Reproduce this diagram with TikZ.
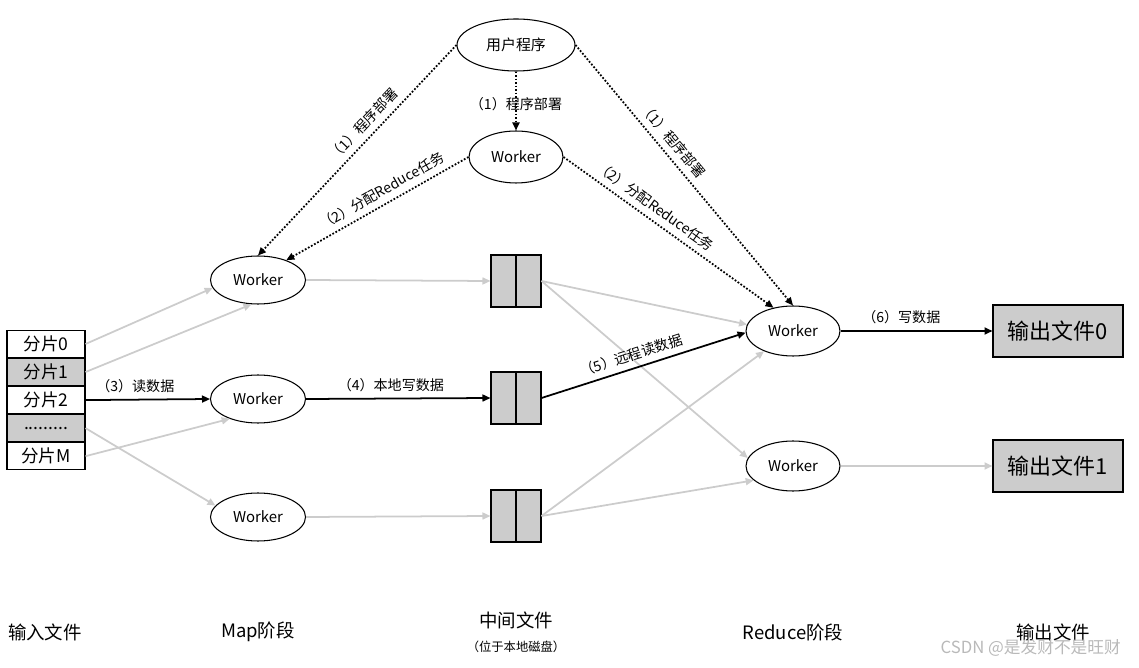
\documentclass[tikz,border=0pt]{standalone}
\usepackage{fontspec}
\setmainfont{Noto Sans CJK SC}
\usetikzlibrary{arrows.meta, positioning, shapes.geometric}

\begin{document}
\begin{tikzpicture}[x=0.02cm, y=-0.02cm,
    font=\fontsize{8}{10}\selectfont,
    wrk/.style={ellipse, draw, semithick, minimum width=1.9cm, minimum height=0.96cm,
      inner sep=0pt, font=\fontsize{8.5}{10}\selectfont},
    tmp/.style={rectangle, draw, semithick, fill=gray!40, minimum width=1cm,
      minimum height=1.04cm, inner sep=0pt},
    part/.style={rectangle, draw, semithick, minimum width=1.56cm, minimum height=0.54cm,
      inner sep=0pt, font=\fontsize{10}{12}\selectfont},
    outf/.style={rectangle, draw, semithick, fill=gray!40, minimum width=2.6cm,
      minimum height=1.04cm, font=\fontsize{12.5}{14}\selectfont},
    ctl/.style={-{Triangle[length=1.6mm,width=1.4mm]}, densely dotted, line width=1pt},
    flow/.style={-{Triangle[length=1.6mm,width=1.4mm]}, line width=1pt},
    idle/.style={-{Triangle[length=1.6mm,width=1.4mm]}, draw=gray!40, line width=1pt},
    stage/.style={font=\fontsize{10.5}{12}\selectfont}
  ]
  \useasboundingbox (0,0) rectangle (1139,668);

  \node[wrk, minimum width=2.36cm, minimum height=1.04cm] (usr) at (516,45) {用户程序};
  \node[wrk, minimum width=1.88cm, minimum height=1.04cm] (mst) at (516,157) {Worker};

  \node[part] (in0) at (46,344) {分片0};
  \node[part, fill=gray!40, below=0pt of in0] (in1) {分片1};
  \node[part, below=0pt of in1] (in2) {分片2};
  \node[part, fill=gray!40, below=0pt of in2] (in3) {.........};
  \node[part, below=0pt of in3] (in4) {分片M};

  \node[wrk] (mw1) at (258,280) {Worker};
  \node[wrk] (mw2) at (258,399) {Worker};
  \node[wrk] (mw3) at (258,517) {Worker};

  \node[tmp] (f1) at (516,281) {};
  \node[tmp] (f2) at (516,398) {};
  \node[tmp] (f3) at (516,516) {};
  \foreach \f in {f1,f2,f3}
    \draw[semithick] (\f.north) -- (\f.south);

  \node[wrk, minimum width=1.88cm, minimum height=1cm] (rw1) at (793,331) {Worker};
  \node[wrk, minimum width=1.88cm, minimum height=1cm] (rw2) at (793,466) {Worker};

  \node[outf] (out0) at (1058,331) {输出文件0};
  \node[outf] (out1) at (1058,466) {输出文件1};

  \draw[ctl] (usr.west) -- node[pos=0.42, sloped, above] {（1）程序部署} (mw1.north);
  \draw[ctl] (usr.south) -- node[pos=0.55] {（1）程序部署} (mst.north);
  \draw[ctl] (usr.east) -- node[pos=0.4, sloped, above] {（1）程序部署} (rw1.north);
  \draw[ctl] (mst.west) -- node[pos=0.44, sloped, above] {（2）分配Reduce任务} (mw1.35);
  \draw[ctl] (mst.east) -- node[pos=0.4, sloped, above] {（2）分配Reduce任务} (rw1.130);

  \draw[idle] (in0.east) -- (mw1.190);
  \draw[idle] (in1.east) -- (mw1.255);
  \draw[flow] (in2.east) -- node[pos=0.4, above] {（3）读数据} (mw2.west);
  \draw[idle] (in3.east) -- (mw3.165);
  \draw[idle] (in4.east) -- (mw2.215);

  \draw[idle] (mw1.east) -- (f1.west);
  \draw[flow] (mw2.east) -- node[pos=0.46, above] {（4）本地写数据} (f2.west);
  \draw[idle] (mw3.east) -- (f3.west);

  \draw[idle] (f1.east) -- (rw1.172);
  \draw[idle] (f1.east) -- (rw2.170);
  \draw[flow] (f2.east) -- node[pos=0.46, sloped, above] {（5）远程读数据} (rw1.182);
  \draw[idle] (f3.east) -- (rw1.215);
  \draw[idle] (f3.east) -- (rw2.200);

  \draw[flow] (rw1.east) -- node[pos=0.4, above] {（6）写数据} (out0.west);
  \draw[idle] (rw2.east) -- (out1.west);

  \node[stage] (s1) at (45,632) {输入文件};
  \node[stage] (s2) at (258,632) {Map阶段};
  \node[stage] (s3) at (516,620) {中间文件};
  \node[font=\fontsize{7}{8}\selectfont, below=0pt of s3] (s3b) {（位于本地磁盘）};
  \node[stage] (s4) at (793,632) {Reduce阶段};
  \node[stage] (s5) at (1053,632) {输出文件};
  \node[text=gray!55, font=\fontsize{9.5}{11}\selectfont, anchor=east] (wm) at (1127,648) {CSDN @是发财不是旺财};
\end{tikzpicture}
\end{document}
